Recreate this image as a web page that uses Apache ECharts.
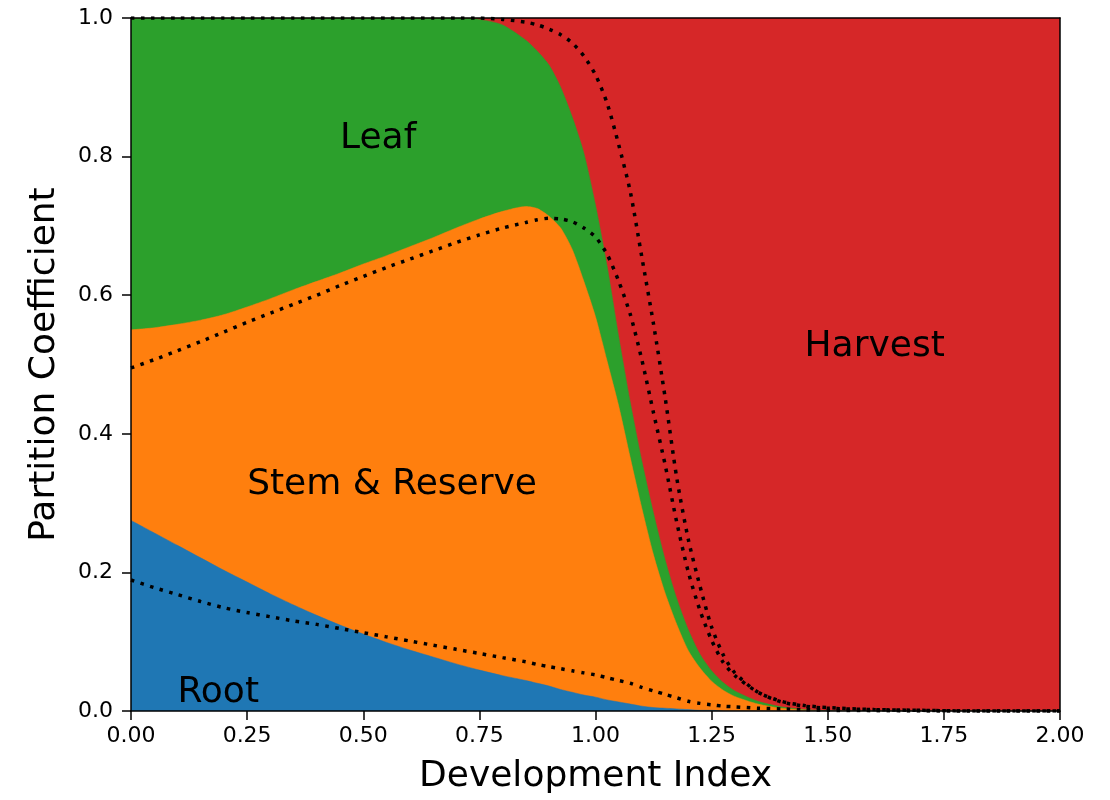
<!DOCTYPE html>
<html>
<head>
<meta charset="utf-8">
<script src="https://cdn.jsdelivr.net/npm/echarts@6/dist/echarts.min.js"></script>
<style>html,body{margin:0;padding:0;background:#fff;}#c{width:1110px;height:800px;}</style>
</head>
<body>
<div id="c"></div>
<script>
// Development index (x)
const devIndex = [0,0.05,0.1,0.15,0.2,0.25,0.3,0.35,0.4,0.45,0.5,0.55,0.6,0.65,0.7,0.75,0.8,0.85,
  0.875,0.9,0.925,0.95,0.975,1.0,1.025,1.05,1.075,1.1,1.125,1.15,1.175,1.2,1.225,1.25,1.275,1.3,
  1.35,1.4,1.45,1.5,1.6,1.7,1.8,1.9,2.0];

// Partition fractions (stacked)
const rootFrac = [0.275,0.257,0.239,0.221,0.203,0.186,0.169,0.153,0.138,0.124,0.111,0.099,0.088,0.078,0.068,0.059,0.051,0.044,
  0.040,0.036,0.031,0.027,0.023,0.020,0.016,0.013,0.010,0.007,0.005,0.004,0.003,0.002,0.001,0.001,0,0,
  0,0,0,0,0,0,0,0,0];
const stemFrac = [0.275,0.296,0.319,0.343,0.369,0.397,0.426,0.455,0.482,0.508,0.534,0.558,0.582,0.605,0.629,0.651,0.670,0.684,
  0.685,0.678,0.666,0.639,0.597,0.549,0.489,0.427,0.355,0.285,0.220,0.166,0.122,0.085,0.061,0.042,0.030,0.021,
  0.010,0.004,0.0015,0,0,0,0,0,0];
const leafFrac = [0.450,0.447,0.442,0.436,0.428,0.417,0.405,0.392,0.380,0.368,0.355,0.343,0.330,0.317,0.303,0.288,0.269,0.240,
  0.227,0.218,0.203,0.191,0.185,0.161,0.137,0.100,0.080,0.068,0.060,0.048,0.037,0.030,0.020,0.015,0.011,0.008,
  0.004,0.002,0.0005,0.0005,0,0,0,0,0];
const harvestFrac = [0,0,0,0,0,0,0,0,0,0,0,0,0,0,0,0.002,0.010,0.032,
  0.048,0.068,0.100,0.143,0.195,0.270,0.358,0.460,0.555,0.640,0.715,0.782,0.838,0.883,0.918,0.942,0.959,0.971,
  0.986,0.994,0.998,0.9995,1,1,1,1,1];

// Dotted reference boundaries (cumulative)
const refRoot = [0.189,0.178,0.168,0.158,0.149,0.142,0.136,0.130,0.125,0.119,0.113,0.107,0.101,0.095,0.089,0.083,0.077,0.071,
  0.067,0.064,0.061,0.058,0.055,0.052,0.048,0.044,0.040,0.034,0.029,0.024,0.019,0.014,0.011,0.009,0.007,0.006,
  0.004,0.003,0.002,0.001,0.0005,0,0,0,0];
const refStem = [0.495,0.507,0.520,0.533,0.547,0.561,0.574,0.587,0.600,0.614,0.627,0.640,0.652,0.664,0.676,0.687,0.697,0.705,
  0.709,0.711,0.710,0.706,0.697,0.684,0.659,0.620,0.572,0.506,0.430,0.355,0.272,0.200,0.145,0.102,0.070,0.051,
  0.027,0.013,0.007,0.004,0.002,0.001,0,0,0];
const refLeaf = [1,1,1,1,1,1,1,1,1,1,1,1,1,1,1,1,0.998,0.994,
  0.990,0.984,0.976,0.964,0.945,0.918,0.877,0.817,0.749,0.654,0.558,0.452,0.336,0.247,0.180,0.121,0.081,0.055,
  0.027,0.014,0.008,0.005,0.002,0.001,0,0,0];

const xTicks = [0,0.25,0.5,0.75,1,1.25,1.5,1.75,2];
const yTicks = [0,0.2,0.4,0.6,0.8,1.0];

const layerNames = ['Root','Stem & Reserve','Leaf','Harvest'];
const layerColors = ['#1f77b4','#ff7f0e','#2ca02c','#d62728'];
const layerData = [rootFrac, stemFrac, leafFrac, harvestFrac];

const labelText = ['Leaf','Stem & Reserve','Root','Harvest'];
const labelX = [0.45, 0.25, 0.1, 1.45];
const labelY = [0.8, 0.3, 0.0, 0.5];

const FONT = "'DejaVu Sans', sans-serif";
const pair = arr => devIndex.map((x,i)=>[x, arr[i]]);

// cumulative tops of the stacked layers (stackplot)
const cumTops = [];
let running = devIndex.map(()=>0);
layerData.forEach(arr => {
  running = running.map((v,i)=> Math.min(1, v + arr[i]));
  cumTops.push(running.slice());
});

const chart = echarts.init(document.getElementById('c'), null, {renderer:'canvas'});

const series = [];
// draw from top layer (Harvest) down so each area fills to the axis and is covered by lower layers
for (let k = layerData.length - 1; k >= 0; k--) {
  series.push({
    name: layerNames[k], type:'line', data: pair(cumTops[k]),
    smooth: 0.25, showSymbol:false, symbol:'none',
    lineStyle:{width:0.5, color: layerColors[k]},
    areaStyle:{color: layerColors[k], opacity:1, origin:'start'},
    itemStyle:{color: layerColors[k]},
    z: 2, silent:true, animation:false
  });
}
[refRoot, refStem, refLeaf].forEach((arr) => {
  series.push({
    type:'line', data: pair(arr), smooth:0.25,
    showSymbol:false, symbol:'none',
    lineStyle:{color:'#000', width:3.5, type:[3.5,6.5], cap:'butt'},
    z: 5, silent:true, animation:false
  });
});

const axisCommon = {
  axisLine:{show:true, onZero:false, lineStyle:{color:'#000', width:1.5}},
  splitLine:{show:false}, z: 10
};

chart.setOption({
  animation:false,
  backgroundColor:'#fff',
  grid:{left:131, right:50, top:18, bottom:89, containLabel:false},
  xAxis:[
    Object.assign({}, axisCommon, {
      type:'value', min:0, max:2, interval:0.25, position:'bottom',
      axisTick:{show:true, length:9, lineStyle:{color:'#000', width:1.5}},
      axisLabel:{formatter:v=>v.toFixed(2), fontSize:22, color:'#000', fontFamily:FONT, margin:14},
      name:'Development Index', nameLocation:'middle', nameGap:48,
      nameTextStyle:{fontSize:36, color:'#000', fontFamily:FONT}
    }),
    Object.assign({}, axisCommon, {
      type:'value', min:0, max:2, position:'top',
      axisTick:{show:false}, axisLabel:{show:false}
    })
  ],
  yAxis:[
    Object.assign({}, axisCommon, {
      type:'value', min:0, max:1, interval:0.2, position:'left',
      axisTick:{show:true, length:9, lineStyle:{color:'#000', width:1.5}},
      axisLabel:{formatter:v=>v.toFixed(1), fontSize:22, color:'#000', fontFamily:FONT, margin:18},
      name:'Partition Coefficient', nameLocation:'middle', nameGap:68, nameRotate:90,
      nameTextStyle:{fontSize:36, color:'#000', fontFamily:FONT}
    }),
    Object.assign({}, axisCommon, {
      type:'value', min:0, max:1, position:'right',
      axisTick:{show:false}, axisLabel:{show:false}
    })
  ],
  series: series
});

const graphics = labelText.map((t,i)=>{
  const p = chart.convertToPixel({xAxisIndex:0, yAxisIndex:0}, [labelX[i], labelY[i]]);
  return {type:'text', x:p[0], y:p[1], z:20,
    style:{text:t, fontSize:36, fontFamily:FONT, fill:'#000', align:'left', verticalAlign:'bottom'}};
});
chart.setOption({graphic: graphics});
</script>
</body>
</html>
